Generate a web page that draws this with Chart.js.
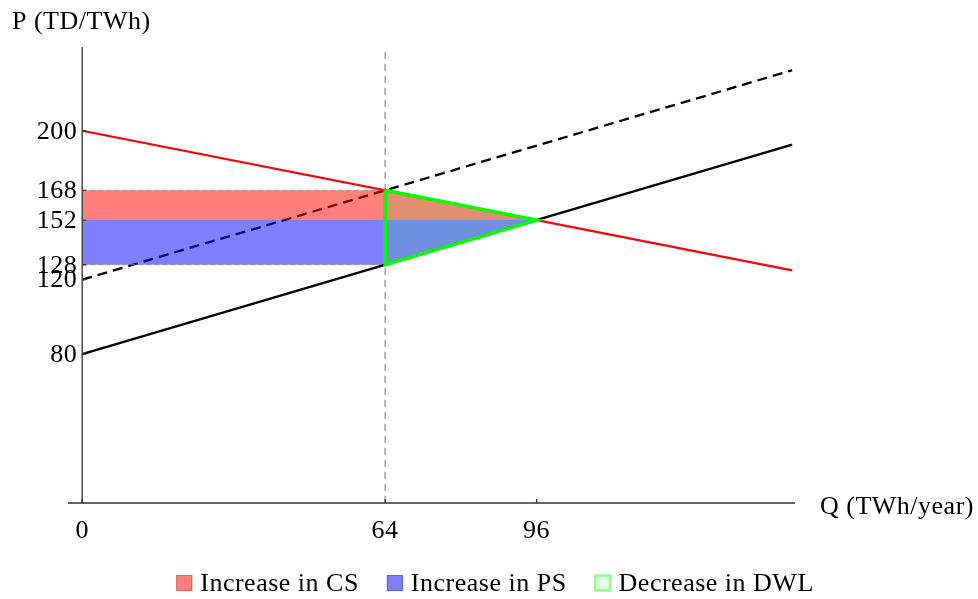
<!DOCTYPE html>
<html>
<head>
<meta charset="utf-8">
<script src="https://cdn.jsdelivr.net/npm/chart.js@4/dist/chart.umd.min.js"></script>
<style>
  html, body { margin: 0; padding: 0; background: #fff; }
  canvas { display: block; }
</style>
</head>
<body>
<canvas id="marketChart" width="978" height="599"></canvas>
<script>
// ===== data =====
const lineQ = [0, 150];
const demandP = [200, 125];
const supplyP = [80, 192.5];
const shiftedSupplyP = [120, 232.5];

const csQ = [0, 64, 96];
const csP = [168, 168, 152];
const psQ = [0, 64, 96];
const psP = [128, 128, 152];
const dwlQ = [64, 96, 64, 64];
const dwlP = [168, 152, 128, 168];

const markerQ = [64, 64];
const markerP = [0, 245];

const xTicks = [0, 64, 96];
const yTicks = [80, 120, 128, 152, 168, 200];
const legendLabels = ["Increase in CS", "Increase in PS", "Decrease in DWL"];

const FONT = '26px "Liberation Serif", "Times New Roman", serif';

function pts(xs, ys) {
    return xs.map((x, i) => ({ x: x, y: ys[i] }));
}

// axes, ticks, labels and legend drawn on top of the library's scales
const axesPlugin = {
    id: "axes",
    afterDatasetsDraw(chart) {
        const ctx = chart.ctx;
        const xs = chart.scales.x;
        const ys = chart.scales.y;
        const area = chart.chartArea;
        const x0 = xs.getPixelForValue(0);
        const y0 = ys.getPixelForValue(0);

        ctx.save();
        ctx.strokeStyle = "#333";
        ctx.lineWidth = 1.3;
        ctx.beginPath();
        ctx.moveTo(area.left, y0);
        ctx.lineTo(area.right, y0);
        ctx.moveTo(x0, y0);
        ctx.lineTo(x0, area.top);
        ctx.stroke();

        // tick marks
        ctx.beginPath();
        yTicks.forEach((v) => {
            const py = ys.getPixelForValue(v);
            ctx.moveTo(x0, py);
            ctx.lineTo(x0 + 4, py);
        });
        xTicks.forEach((v) => {
            const px = xs.getPixelForValue(v);
            ctx.moveTo(px, y0);
            ctx.lineTo(px, y0 - 4);
        });
        ctx.stroke();

        ctx.fillStyle = "#000";
        ctx.font = FONT;
        ctx.letterSpacing = "0.5px";
        ctx.textAlign = "right";
        ctx.textBaseline = "middle";
        yTicks.forEach((v) => {
            ctx.fillText(String(v), x0 - 5, ys.getPixelForValue(v) + 1);
        });
        ctx.textAlign = "center";
        ctx.textBaseline = "alphabetic";
        xTicks.forEach((v) => {
            ctx.fillText(String(v), xs.getPixelForValue(v), y0 + 35);
        });

        ctx.textAlign = "left";
        ctx.fillText("P (TD/TWh)", 12, 29);
        ctx.fillText("Q (TWh/year)", 820, y0 + 11);

        // legend
        const swatches = [
            { fill: "rgba(255,0,0,0.5)", stroke: "rgba(200,60,60,0.5)" },
            { fill: "rgba(0,0,255,0.5)", stroke: "rgba(60,60,200,0.5)" },
            { fill: "rgba(0,255,0,0.1)", stroke: "rgba(0,255,0,0.4)" }
        ];
        const box = 16, gapIn = 8, gapOut = 28;
        const widths = legendLabels.map((t) => ctx.measureText(t).width);
        let total = widths.reduce((a, b) => a + b, 0) + legendLabels.length * (box + gapIn) + (legendLabels.length - 1) * gapOut;
        let lx = 495 - total / 2;
        const ly = 591;
        legendLabels.forEach((t, i) => {
            ctx.fillStyle = swatches[i].fill;
            ctx.fillRect(lx, ly - box, box, box);
            ctx.strokeStyle = swatches[i].stroke;
            ctx.lineWidth = i === 2 ? 2.5 : 1;
            ctx.strokeRect(lx + 0.5, ly - box + 0.5, box - 1, box - 1);
            ctx.fillStyle = "#000";
            ctx.fillText(t, lx + box + gapIn, ly);
            lx += box + gapIn + widths[i] + gapOut;
        });
        ctx.restore();
    }
};

const ctx = document.getElementById("marketChart").getContext("2d");
new Chart(ctx, {
    type: "line",
    data: {
        datasets: [
            {
                label: legendLabels[2],
                data: pts(dwlQ, dwlP),
                borderColor: "#00ff00",
                borderWidth: 3.5,
                backgroundColor: "rgba(0,255,0,0.12)",
                fill: "shape",
                order: 0
            },
            {
                label: "Supply",
                data: pts(lineQ, supplyP),
                borderColor: "#000",
                borderWidth: 2.3,
                fill: false,
                order: 1
            },
            {
                label: "Demand",
                data: pts(lineQ, demandP),
                borderColor: "#ff0000",
                borderWidth: 2.2,
                fill: false,
                order: 2
            },
            {
                label: legendLabels[1],
                data: pts(psQ, psP),
                borderColor: "rgba(140,140,140,0.8)",
                borderWidth: 1,
                borderDash: [5, 3],
                backgroundColor: "rgba(0,0,255,0.5)",
                fill: { value: 152 },
                order: 3
            },
            {
                label: legendLabels[0],
                data: pts(csQ, csP),
                borderColor: "rgba(140,140,140,0.8)",
                borderWidth: 1,
                borderDash: [5, 3],
                backgroundColor: "rgba(255,0,0,0.5)",
                fill: { value: 152 },
                order: 4
            },
            {
                label: "Shifted supply",
                data: pts(lineQ, shiftedSupplyP),
                borderColor: "#000",
                borderWidth: 2.3,
                borderDash: [10, 6],
                fill: false,
                order: 5
            },
            {
                label: "Q marker",
                data: pts(markerQ, markerP),
                borderColor: "rgba(130,130,130,0.9)",
                borderWidth: 1.2,
                borderDash: [7, 5],
                fill: false,
                order: 6
            }
        ]
    },
    options: {
        responsive: false,
        animation: false,
        elements: { point: { radius: 0, hoverRadius: 0 }, line: { tension: 0 } },
        layout: { padding: { left: 68, right: 183, top: 47, bottom: 96 } },
        plugins: {
            legend: { display: false },
            tooltip: { enabled: false }
        },
        scales: {
            x: { type: "linear", min: -3, max: 150.6, display: false },
            y: { type: "linear", min: 0, max: 245, display: false }
        }
    },
    plugins: [axesPlugin]
});
</script>
</body>
</html>
